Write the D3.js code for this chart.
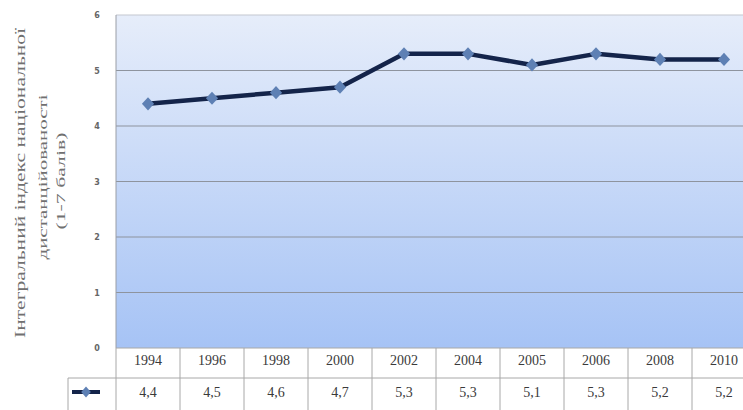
<!DOCTYPE html>
<html>
<head>
<meta charset="utf-8">
<script src="https://cdn.jsdelivr.net/npm/d3@7.9.0/dist/d3.min.js"></script>
<style>
  html, body { margin: 0; padding: 0; background: #fff; }
  svg { display: block; }
</style>
</head>
<body>
<svg id="chart" width="743" height="410"></svg>
<script>
// Data
const years = ['1994', '1996', '1998', '2000', '2002', '2004', '2005', '2006', '2008', '2010'];
const values = [4.4, 4.5, 4.6, 4.7, 5.3, 5.3, 5.1, 5.3, 5.2, 5.2];
const valueLabels = ['4,4', '4,5', '4,6', '4,7', '5,3', '5,3', '5,1', '5,3', '5,2', '5,2'];
const yTicks = [0, 1, 2, 3, 4, 5, 6];
const titleLines = ['Інтегральний індекс національної', 'дистанційованості', '(1-7 балів)'];

const svg = d3.select('#chart');

// Plot geometry
const plotLeft = 116, plotTop = 15, plotBottom = 348;
const colW = 64;
const rowH = 30;

const x = d3.scaleBand().domain(years).range([plotLeft, plotLeft + colW * years.length]);
const y = d3.scaleLinear().domain([0, 6]).range([plotBottom, plotTop]);

// Background gradient
const defs = svg.append('defs');
const grad = defs.append('linearGradient')
  .attr('id', 'bg').attr('x1', 0).attr('y1', 0).attr('x2', 0).attr('y2', 1);
grad.append('stop').attr('offset', '0%').attr('stop-color', '#e6edfa');
grad.append('stop').attr('offset', '100%').attr('stop-color', '#a6c3f5');

svg.append('rect')
  .attr('x', plotLeft).attr('y', plotTop)
  .attr('width', colW * years.length).attr('height', plotBottom - plotTop)
  .attr('fill', 'url(#bg)');

// Gridlines
svg.append('g')
  .selectAll('line')
  .data(yTicks.filter(d => d > 0))
  .join('line')
  .attr('x1', plotLeft).attr('x2', 743)
  .attr('y1', d => y(d)).attr('y2', d => y(d))
  .attr('stroke', d => d === 6 ? '#c4c8cf' : '#8e949e')
  .attr('stroke-width', 1.2);

// Left border of plot
svg.append('line')
  .attr('x1', plotLeft).attr('x2', plotLeft)
  .attr('y1', plotTop).attr('y2', plotBottom)
  .attr('stroke', '#9a9ea6');

// Y tick labels
svg.append('g')
  .selectAll('text')
  .data(yTicks)
  .join('text')
  .attr('x', 97).attr('y', d => y(d) + 3)
  .attr('text-anchor', 'middle')
  .attr('font-family', 'DejaVu Sans, sans-serif')
  .attr('font-size', 8)
  .attr('font-weight', 'bold')
  .attr('fill', '#666')
  .text(d => d);

// Y axis title (rotated, three lines)
const titleX = [20, 42, 60];
const titleLen = [310, 165, 97];
const titleSize = [15, 13.5, 13];
const titleCy = [183, 177, 181];
titleLines.forEach((t, i) => {
  svg.append('text')
    .attr('transform', `translate(${titleX[i] + titleSize[i] * 0.35},${titleCy[i]}) rotate(-90)`)
    .attr('text-anchor', 'middle')
    .attr('font-family', 'Liberation Serif, serif')
    .attr('font-size', titleSize[i])
    .attr('fill', '#707070')
    .attr('textLength', titleLen[i])
    .attr('lengthAdjust', 'spacingAndGlyphs')
    .text(t);
});

// Line series
const line = d3.line()
  .x((d, i) => x(years[i]) + x.bandwidth() / 2)
  .y(d => y(d));

svg.append('path')
  .datum(values)
  .attr('d', line)
  .attr('fill', 'none')
  .attr('stroke', '#14244a')
  .attr('stroke-width', 4.5)
  .attr('stroke-linejoin', 'round');

const diamond = d3.symbol().type(d3.symbolDiamond).size(50);
svg.append('g')
  .selectAll('path')
  .data(values)
  .join('path')
  .attr('transform', (d, i) => `translate(${x(years[i]) + x.bandwidth() / 2},${y(d)}) scale(1.6,1)`)
  .attr('d', diamond)
  .attr('fill', '#5e80b4');

// Data table
const table = svg.append('g');
const r1 = plotBottom, r2 = plotBottom + rowH;
const gridColor = '#a8a8a8';

// horizontal table lines
table.append('line').attr('x1', plotLeft).attr('x2', 743).attr('y1', r1).attr('y2', r1)
  .attr('stroke', gridColor);
table.append('line').attr('x1', 68).attr('x2', 743).attr('y1', r2).attr('y2', r2)
  .attr('stroke', gridColor);
table.append('line').attr('x1', 68).attr('x2', 68).attr('y1', r2).attr('y2', 410)
  .attr('stroke', gridColor);

// vertical column lines
table.selectAll('line.col')
  .data(years)
  .join('line')
  .attr('class', 'col')
  .attr('x1', d => x(d)).attr('x2', d => x(d))
  .attr('y1', r1).attr('y2', 410)
  .attr('stroke', gridColor);

table.selectAll('text.year')
  .data(years)
  .join('text')
  .attr('class', 'year')
  .attr('x', d => x(d) + x.bandwidth() / 2)
  .attr('y', r1 + 17)
  .attr('text-anchor', 'middle')
  .attr('font-family', 'Liberation Serif, serif')
  .attr('font-size', 14)
  .attr('fill', '#3a3a3a')
  .text(d => d);

table.selectAll('text.val')
  .data(valueLabels)
  .join('text')
  .attr('class', 'val')
  .attr('x', (d, i) => x(years[i]) + x.bandwidth() / 2)
  .attr('y', r2 + 19)
  .attr('text-anchor', 'middle')
  .attr('font-family', 'Liberation Serif, serif')
  .attr('font-size', 14)
  .attr('fill', '#3a3a3a')
  .text(d => d);

// Legend key in table
table.append('line')
  .attr('x1', 72).attr('x2', 100).attr('y1', r2 + 14).attr('y2', r2 + 14)
  .attr('stroke', '#14244a').attr('stroke-width', 4);
table.append('path')
  .attr('transform', `translate(86,${r2 + 14}) scale(1.5,1)`)
  .attr('d', d3.symbol().type(d3.symbolDiamond).size(36))
  .attr('fill', '#5e80b4');
</script>
</body>
</html>
